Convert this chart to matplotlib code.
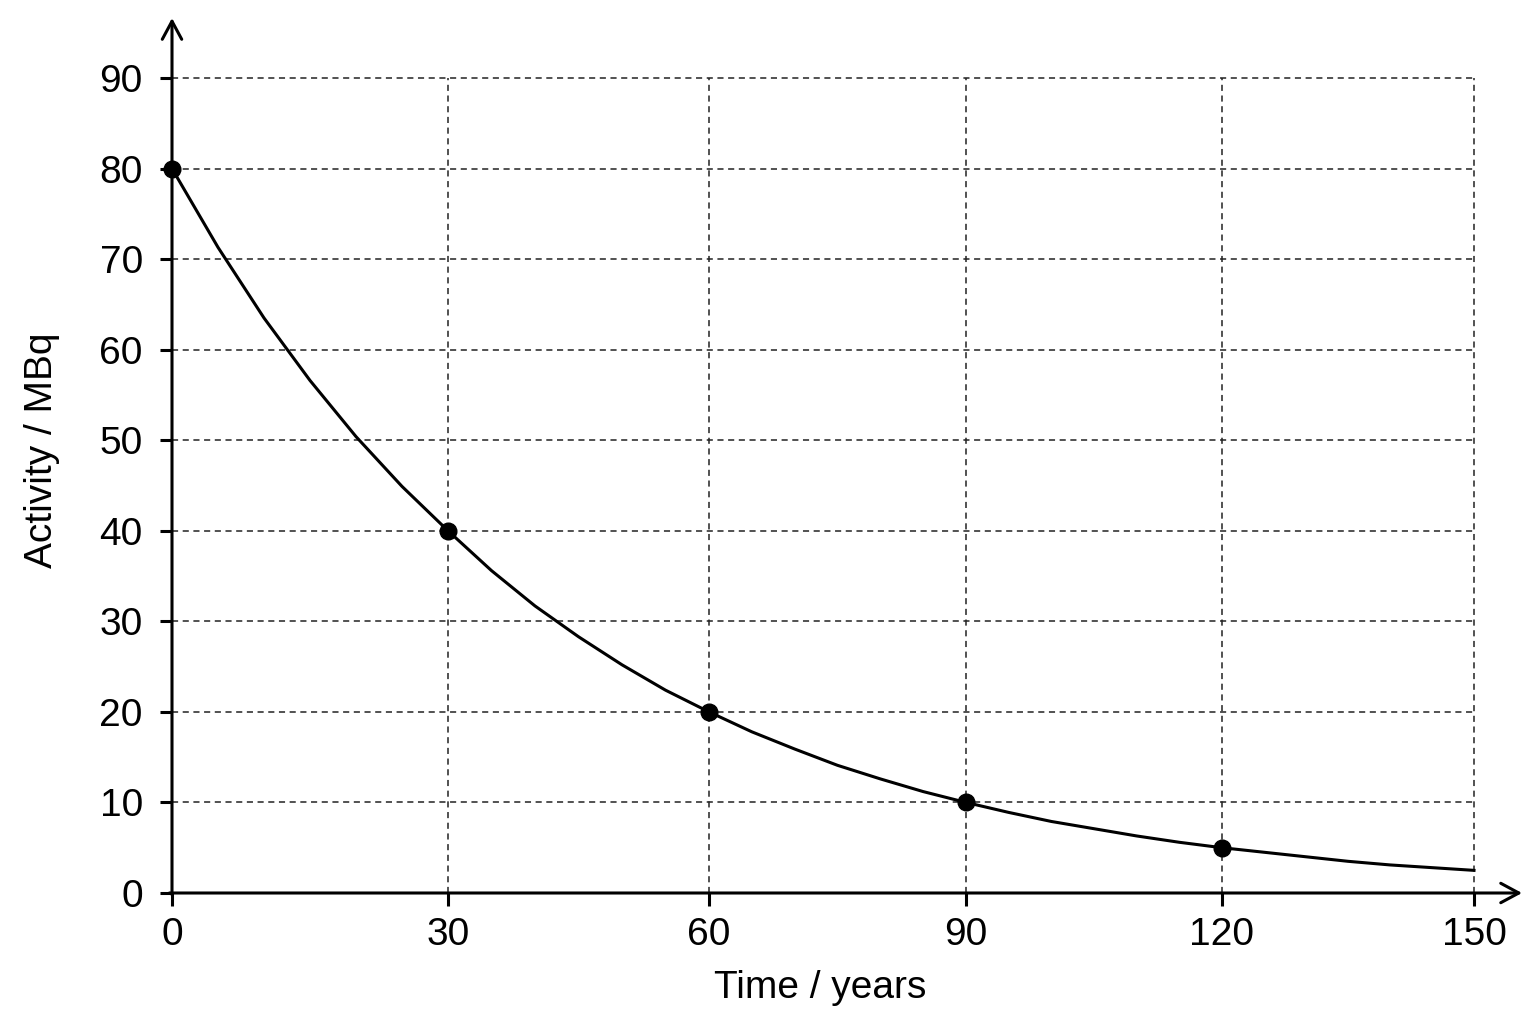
import matplotlib
matplotlib.use("Agg")
import matplotlib.pyplot as plt
import numpy as np

# ---- data ----
time_points = [0, 30, 60, 90, 120]
activity_points = [80, 40, 20, 10, 5]

curve_time = [0, 5, 10, 15, 20, 25, 30, 35, 40, 45, 50, 55, 60, 65, 70, 75,
              80, 85, 90, 95, 100, 105, 110, 115, 120, 125, 130, 135, 140, 145, 150]
curve_activity = [80, 71.3, 63.5, 56.6, 50.4, 44.9, 40, 35.6, 31.7, 28.3, 25.2,
                  22.4, 20, 17.8, 15.9, 14.1, 12.6, 11.2, 10, 8.9, 7.9, 7.1,
                  6.3, 5.6, 5, 4.5, 4.0, 3.5, 3.1, 2.8, 2.5]

x_ticks = [0, 30, 60, 90, 120, 150]
y_ticks = [0, 10, 20, 30, 40, 50, 60, 70, 80, 90]
x_label = "Time / years"
y_label = "Activity / MBq"

# layout: slightly uneven horizontal spacing of the drawn grid (pixel columns)
_grid_px = np.array([172, 448, 709, 966, 1222, 1474], dtype=float)
_grid_val = np.array(x_ticks, dtype=float)


def _fwd(x):
    x = np.asarray(x, dtype=float)
    slope_lo = (_grid_px[1] - _grid_px[0]) / (_grid_val[1] - _grid_val[0])
    slope_hi = (_grid_px[-1] - _grid_px[-2]) / (_grid_val[-1] - _grid_val[-2])
    out = np.interp(x, _grid_val, _grid_px)
    out = np.where(x < _grid_val[0], _grid_px[0] + (x - _grid_val[0]) * slope_lo, out)
    out = np.where(x > _grid_val[-1], _grid_px[-1] + (x - _grid_val[-1]) * slope_hi, out)
    return out


def _inv(p):
    p = np.asarray(p, dtype=float)
    slope_lo = (_grid_px[1] - _grid_px[0]) / (_grid_val[1] - _grid_val[0])
    slope_hi = (_grid_px[-1] - _grid_px[-2]) / (_grid_val[-1] - _grid_val[-2])
    out = np.interp(p, _grid_px, _grid_val)
    out = np.where(p < _grid_px[0], _grid_val[0] + (p - _grid_px[0]) / slope_lo, out)
    out = np.where(p > _grid_px[-1], _grid_val[-1] + (p - _grid_px[-1]) / slope_hi, out)
    return out


plt.rcParams['font.family'] = ['Liberation Sans', 'DejaVu Sans']

fig = plt.figure(figsize=(15.36, 10.24), dpi=100)
ax = fig.add_axes([172/1536, 1-893/1024, (1474-172)/1536, (893-78)/1024])

ax.set_xscale('function', functions=(_fwd, _inv))
ax.set_xlim(0, 150)
ax.set_ylim(0, 90)
ax.set_xticks(x_ticks)
ax.set_xticklabels([str(t) for t in x_ticks])
ax.set_yticks(y_ticks)
ax.minorticks_off()

ax.grid(True, linestyle=(0, (4, 3)), linewidth=1.1, color='#222222')
for gl in ax.get_xgridlines() + ax.get_ygridlines():
    gl.set_clip_on(False)
ax.set_axisbelow(True)

for s in ['top', 'right', 'left', 'bottom']:
    ax.spines[s].set_visible(False)

ax.tick_params(axis='both', labelsize=28, width=2.2, length=9, color='black',
               labelcolor='black')
ax.tick_params(axis='x', pad=8)
ax.tick_params(axis='y', pad=12)

arrow_style = '->,head_length=1.3,head_width=0.7'
ax.annotate('', xy=(1.0369, 0), xytext=(-0.002, 0), xycoords='axes fraction',
            textcoords='axes fraction',
            arrowprops=dict(arrowstyle=arrow_style,
                            lw=2.2, color='black', shrinkA=0, shrinkB=0),
            annotation_clip=False)
ax.annotate('', xy=(0, 1.0736), xytext=(0, -0.002), xycoords='axes fraction',
            textcoords='axes fraction',
            arrowprops=dict(arrowstyle=arrow_style,
                            lw=2.2, color='black', shrinkA=0, shrinkB=0),
            annotation_clip=False)

ax.plot(curve_time, curve_activity, color='black', linewidth=2.2,
        clip_on=False, zorder=3)
ax.plot(time_points, activity_points, 'o', color='black', markersize=12,
        clip_on=False, zorder=4)

fig.text(820/1536, 1-988/1024, x_label, fontsize=28, ha='center', va='center')
fig.text(42/1536, 1-450/1024, y_label, fontsize=28, ha='center', va='center',
         rotation=90)

fig.savefig("out.png", dpi=100, facecolor='white')
